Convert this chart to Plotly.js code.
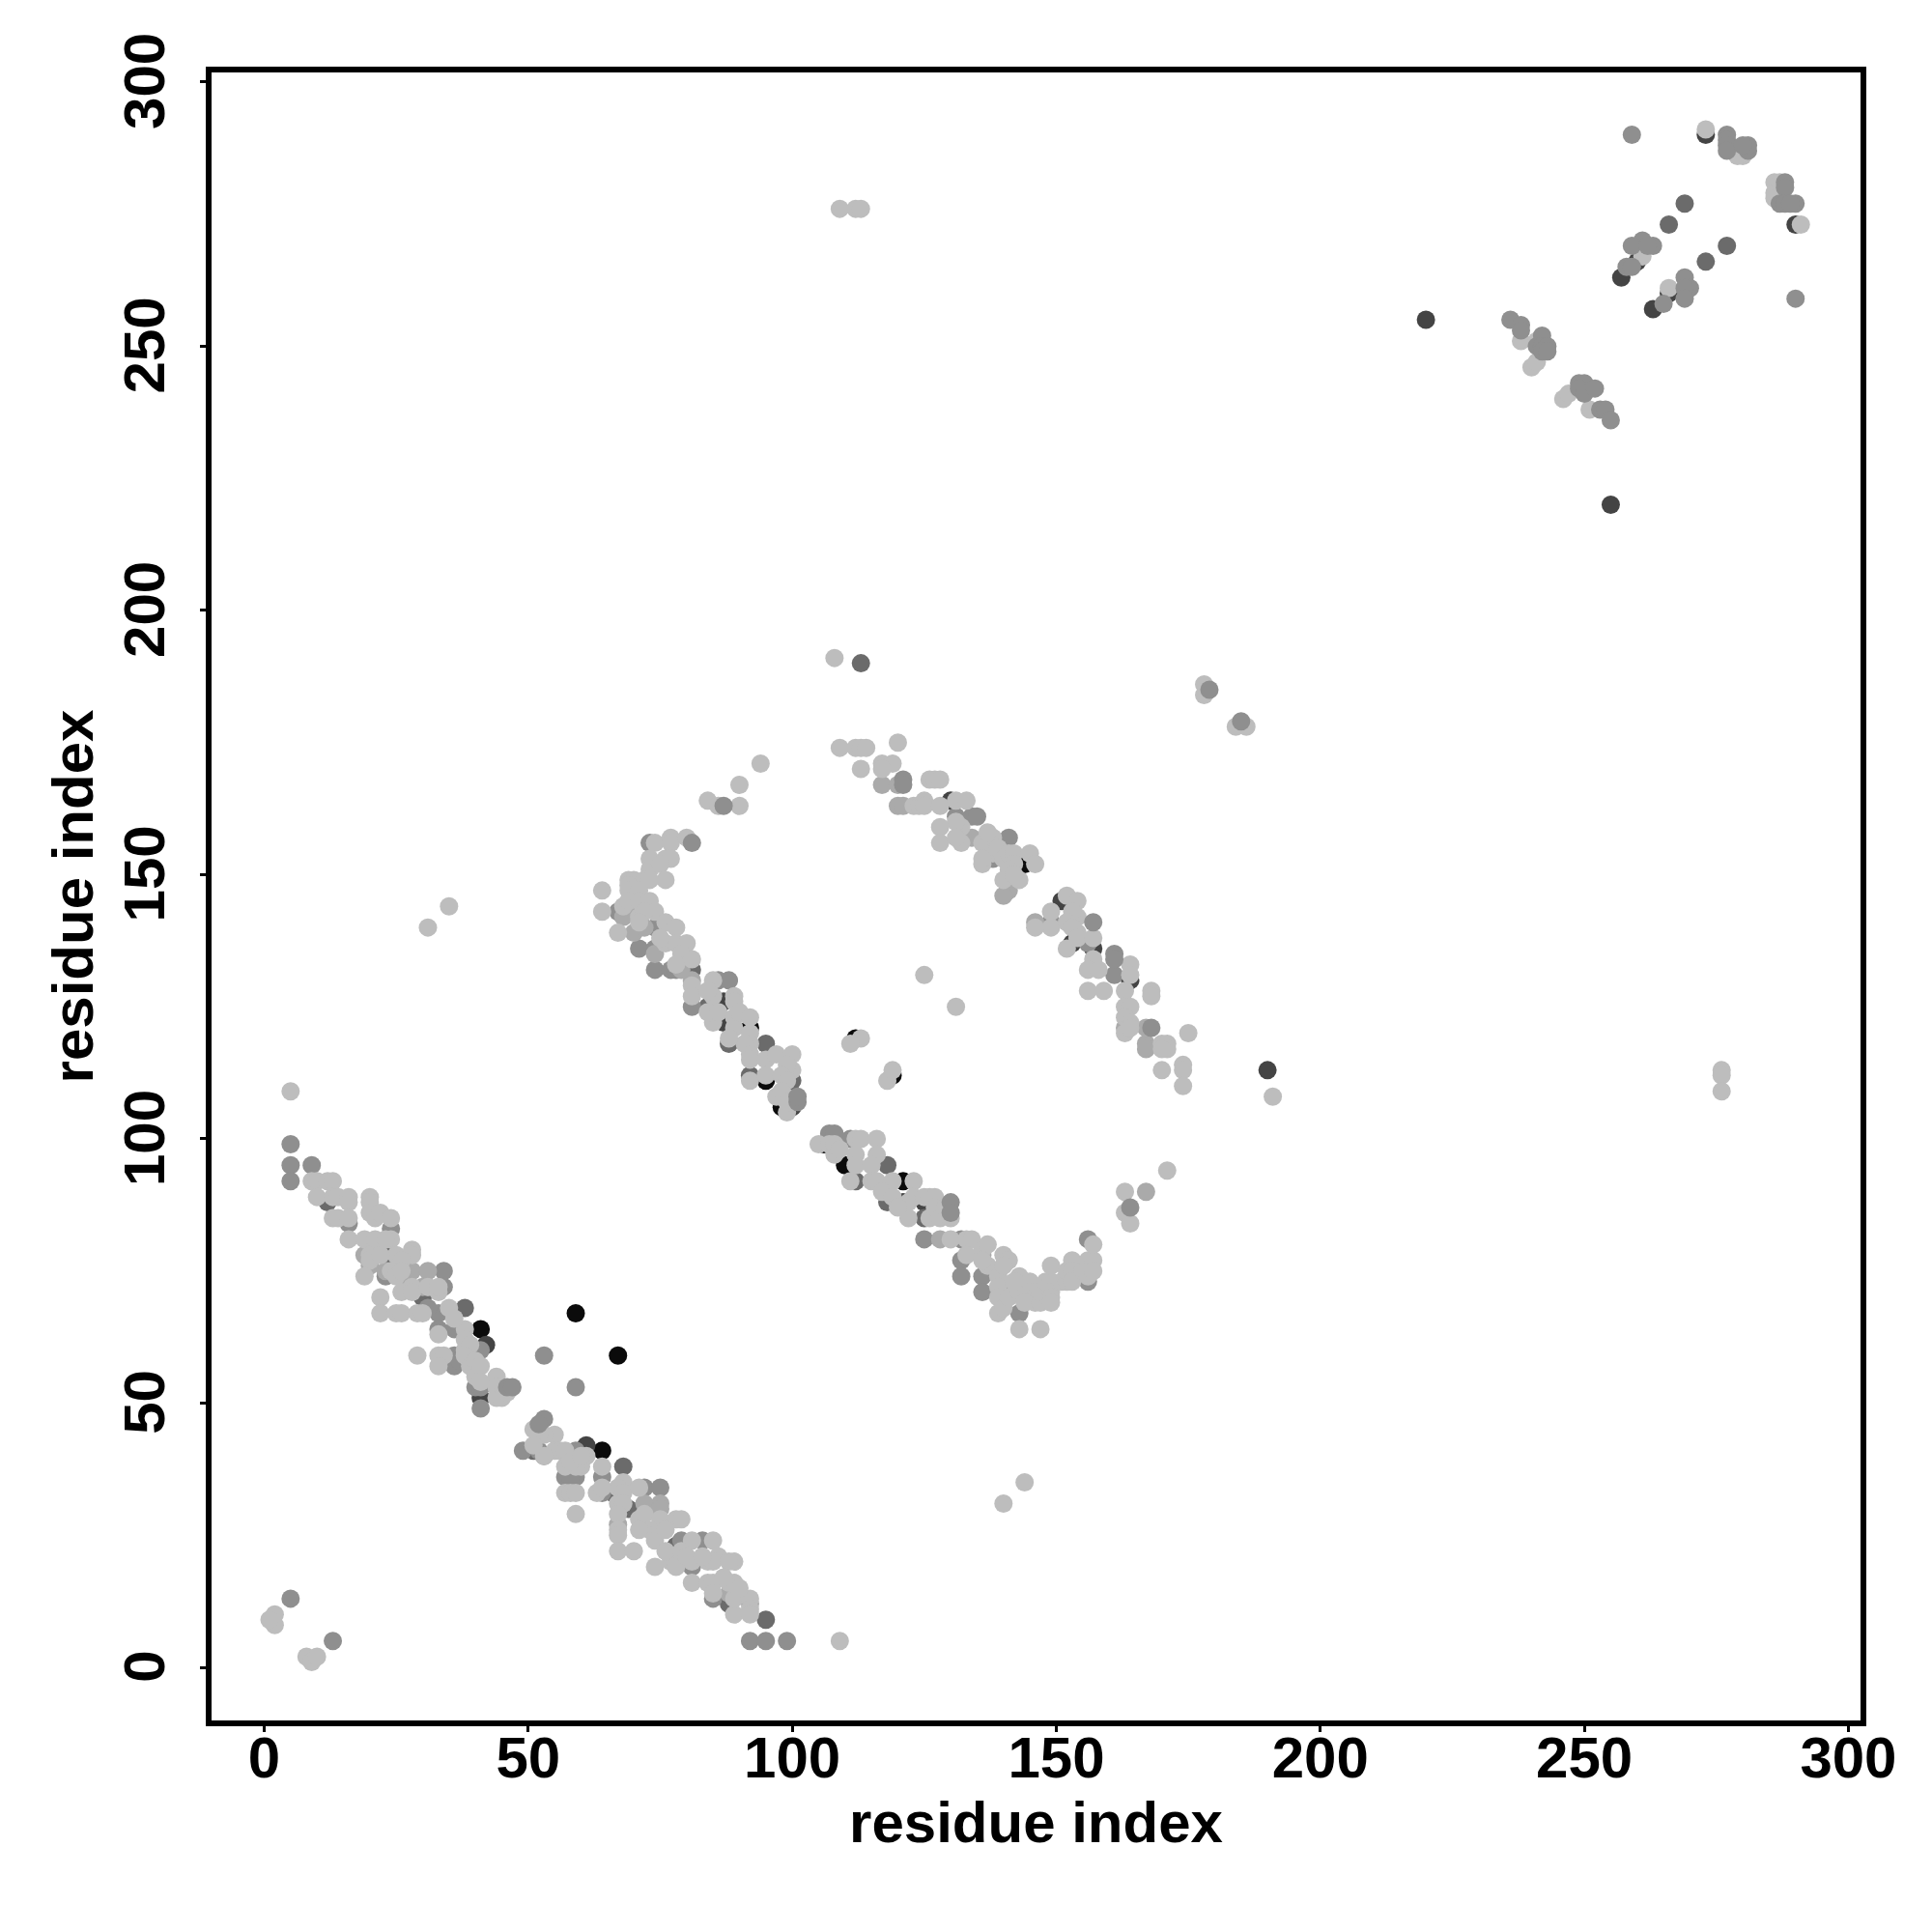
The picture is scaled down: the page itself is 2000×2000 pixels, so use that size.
<!DOCTYPE html>
<html><head><meta charset="utf-8"><script src="https://cdn.plot.ly/plotly-3.0.1.min.js"></script>
<style>html,body{margin:0;padding:0;background:#fff}</style></head><body><div id="c" style="width:2000px;height:2000px"></div>
<script>
var tickVals=[0,50,100,150,200,250,300];
var blackPts=[[41,64],[59,67],[67,59],[64,41],[106,99],[110,95],[121,92],[92,121],[95,111],[98,106],[112,119],[119,112],[144,152],[152,145]];
var darkPts=[[42,61],[41,51],[61,42],[220,255],[255,220],[273,290],[260,266],[257,263],[266,260],[263,257],[290,273],[130,164],[137,157],[137,153],[153,137],[157,136],[164,130],[87,126],[87,122],[190,113],[151,145],[125,88],[121,88],[100,106]];
var dimPts=[[38,68],[30,70],[23,78],[12,88],[68,38],[69,30],[66,33],[51,41],[88,12],[78,23],[95,9],[81,132],[84,125],[88,118],[95,118],[92,112],[100,111],[118,95],[118,88],[112,92],[125,85],[113,190],[269,277],[266,273],[277,269],[273,266]];
var midPts=[[5,99],[5,95],[5,92],[9,95],[16,84],[24,83],[23,74],[34,75],[34,72],[33,67],[33,64],[36,64],[36,59],[36,57],[37,58],[31,68],[41,60],[40,53],[41,53],[41,49],[53,59],[59,53],[5,13],[13,5],
[49,41],[52,41],[53,40],[59,41],[57,36],[59,36],[58,36],[64,36],[64,33],[72,34],[75,34],[81,19],[85,13],[92,5],[95,5],[99,5],[83,24],[79,24],
[67,143],[71,136],[74,136],[74,132],[77,132],[78,132],[74,140],[81,125],[86,130],[88,130],[73,156],
[107,101],[108,101],[111,100],[125,81],[132,77],[132,74],[132,81],[136,74],[136,71],[143,67],[156,73],[156,81],[141,71],
[131,161],[134,161],[135,161],[141,157],[138,153],[141,149],[149,141],[156,137],[157,133],[161,131]];
var softPts=[[28,75],[31,75],[31,72],[30,72],[26,74],[23,75],[19,78],[20,76],[75,31],[72,31],[75,30],[67,27],[88,14],[92,12],[70,139],[72,140],[69,143],[68,142],[74,135],[81,130],[79,132],[128,81],[136,78],[117,167],[120,167],[120,163],[121,163],[167,118],[167,117],[167,121],[146,141],[141,147],[140,146],[134,157],[163,121],[167,90]];
var lightPts=[[5,109],[9,92],[10,92],[12,92],[13,92],[10,89],[13,89],[14,89],[16,89],[16,88],[20,89],[20,88],[13,85],[14,85],[16,85],[20,86],[21,85],[22,86],[24,85],[16,81],[19,81],[21,81],[24,81],[23,81],[20,78],[20,77],[25,78],[28,79],[28,78],[26,77],[22,78],[19,74],[24,75],[25,74],[26,75],[26,71],[28,72],[28,71],[31,72],[33,71],[33,72],[22,70],[22,67],[25,67],[26,67],[29,67],[30,67],[35,68],[33,63],[38,64],[36,66],[38,62],[38,60],[39,61],[29,59],[33,59],[34,59],[33,57],[38,59],[39,57],[40,58],[40,55],[41,57],[41,54],[44,55],[44,53],[44,51],[45,51],[46,52],
[51,45],[55,44],[53,44],[52,44],[55,41],[56,41],[57,41],[53,40],[51,42],[61,40],[60,38],[57,38],[59,38],[58,39],[60,40],[64,38],[68,35],[67,34],[68,33],[57,33],[58,33],[59,33],[59,29],[63,33],[64,34],[67,31],[68,31],[67,29],[71,34],[71,28],[72,29],[75,28],[73,26],[74,25],[78,28],[79,28],[67,26],[67,25],[71,26],[67,22],[70,22],[74,24],[76,26],[74,19],[77,20],[78,19],[76,22],[81,24],[79,22],[85,24],[81,20],[80,21],[84,20],[86,21],[85,20],[83,21],[89,20],[88,20],[81,16],[84,16],[85,16],[89,16],[88,16],[87,17],[85,14],[89,10],[89,13],[92,13],[92,11],[92,10],[90,15],[109,5],
[74,156],[77,157],[77,156],[80,157],[76,153],[77,153],[73,153],[73,151],[75,152],[76,149],[69,149],[70,149],[72,149],[73,149],[69,148],[69,147],[71,147],[64,147],[64,143],[68,144],[69,145],[71,145],[73,145],[74,143],[71,142],[72,143],[67,139],[71,141],[76,141],[78,140],[76,137],[78,137],[80,137],[75,138],[79,135],[81,134],[78,133],[81,129],[81,127],[85,130],[85,127],[84,128],[89,127],[89,126],[85,122],[84,124],[86,124],[89,123],[89,121],[90,124],[92,123],[92,120],[92,118],[91,118],[92,116],[92,115],[95,115],[97,116],[100,116],[100,113],[99,114],[92,111],[95,112],[98,112],[99,111],[97,108],[98,109],[99,105],[99,107],[88,119],
[105,99],[108,97],[107,99],[108,99],[109,98],[112,100],[113,100],[116,100],[112,97],[116,97],[112,95],[115,95],[111,92],[115,92],[116,92],[119,92],[123,92],[117,90],[119,89],[123,89],[122,88],[122,85],[120,87],[125,89],[126,89],[127,89],[126,85],[127,87],[128,85],[130,85],[129,87],[130,81],[133,81],[134,81],[133,78],[136,79],[137,80],[137,76],[136,77],[139,74],[140,78],[141,77],[140,76],[139,72],[139,70],[139,67],[140,68],[141,70],[143,74],[144,72],[143,71],[142,73],[143,64],[147,64],[145,73],[145,71],[146,70],[146,69],[144,69],[147,69],[147,71],[148,73],[149,73],[149,71],[149,70],[149,69],[149,76],[151,73],[152,73],[152,75],[153,77],[153,75],[153,73],[155,75],[156,74],[156,77],[157,77],[157,75],[157,80],
[120,175],[117,171],[119,171],[117,170],[126,168],[127,168],[128,168],[123,163],[124,163],[125,164],[125,163],[128,163],[131,164],[133,164],[132,159],[131,160],[128,159],[128,156],[132,156],[131,157],[136,156],[138,157],[137,158],[138,154],[136,152],[136,153],[139,155],[140,153],[141,154],[142,154],[145,154],[146,152],[142,152],[141,151],[140,149],[143,149],[142,150],[152,146],[154,145],[149,143],[149,140],[146,140],[154,142],[153,143],[152,141],[154,139],[153,140],[152,136],[154,138],[157,138],[157,134],[156,132],[158,132],[164,133],[164,131],[163,128],[156,128],[159,128],[168,128],[168,127],[163,125],[164,125],[163,123],[164,122],[163,120],[164,121],[170,118],[171,118],[171,117],[170,117],[175,120],[170,113],[174,114],[174,113],[174,110],[191,108],
[163,90],[163,86],[171,94],[164,84],[125,131],[131,125],[113,119],[111,118],[118,111],[119,113],[276,113],[276,112],[276,109],[31,140],[35,144],[140,31],[144,35],[2,8],[2,10],[1,9],[8,2],[9,1],[10,2],
[109,276],[112,276],[113,276],[108,191],[178,186],[178,184],[184,178],[186,178],[109,174],[112,174],[113,174],[114,174],[113,170],[94,171],[90,167],[84,164],[86,163],[90,163],
[273,291],[280,286],[279,286],[286,281],[286,279],[287,281],[286,278],[261,267],[291,273],[266,261],[238,251],[240,246],[241,247],[241,251],[246,240],[247,241],[251,238]];
var topPts=[[46,53],[47,53],[53,47],[52,46],[81,156],[130,88],[130,86],[121,168],[121,167],[157,141],[161,135],[161,134],[168,121],[164,87],[87,163],[101,107],[101,108],[179,185],[185,179],
[259,290],[277,290],[277,289],[277,288],[277,287],[281,287],[281,288],[280,288],[288,281],[288,280],[287,277],[288,277],[290,277],[289,277],[261,270],[259,269],[263,269],[262,269],[258,265],[259,265],[269,263],[270,261],[269,261],[269,259],[265,258],[290,259],
[236,255],[238,254],[238,253],[242,252],[241,250],[242,250],[243,250],[242,249],[243,249],[249,243],[250,243],[249,242],[250,241],[252,242],[253,238],[254,238],[255,236]];
var groups=[[blackPts,'#0b0b0b'],[darkPts,'#444444'],[dimPts,'#6b6b6b'],[midPts,'#8f8f8f'],[softPts,'#aaaaaa'],[lightPts,'#bdbdbd'],[topPts,'#8f8f8f']];
var F='"Liberation Sans",Arial,sans-serif';
var data=groups.map(function(g){return {type:'scatter',mode:'markers',x:g[0].map(function(p){return p[0];}),y:g[0].map(function(p){return p[1];}),marker:{size:19,color:g[1],line:{width:0}},hoverinfo:'x+y'};});
var ax={showline:true,mirror:true,linecolor:'#000',linewidth:6,showgrid:false,zeroline:false,tickmode:'array',tickvals:tickVals,ticktext:tickVals.map(String),ticks:'outside',ticklen:6,tickwidth:3,tickcolor:'#000',tickfont:{family:F,size:60,color:'#000',weight:700},automargin:false};
var xa=Object.assign({},ax,{range:[-9.97,302.3],ticklabelstandoff:-25,title:{text:'<b>residue index</b>',font:{family:F,size:60,color:'#000'},standoff:11}});
var ya=Object.assign({},ax,{range:[-10.05,301.8],tickangle:-90,ticklabelstandoff:13,ticklabelshift:8,title:{text:'<b>residue index</b>',font:{family:F,size:60,color:'#000'},standoff:2}});
Plotly.newPlot('c',data,{width:2000,height:2000,showlegend:false,paper_bgcolor:'#fff',plot_bgcolor:'#fff',margin:{l:219,r:74,t:75,b:219},xaxis:xa,yaxis:ya},{displayModeBar:false,staticPlot:true});
</script></body></html>
